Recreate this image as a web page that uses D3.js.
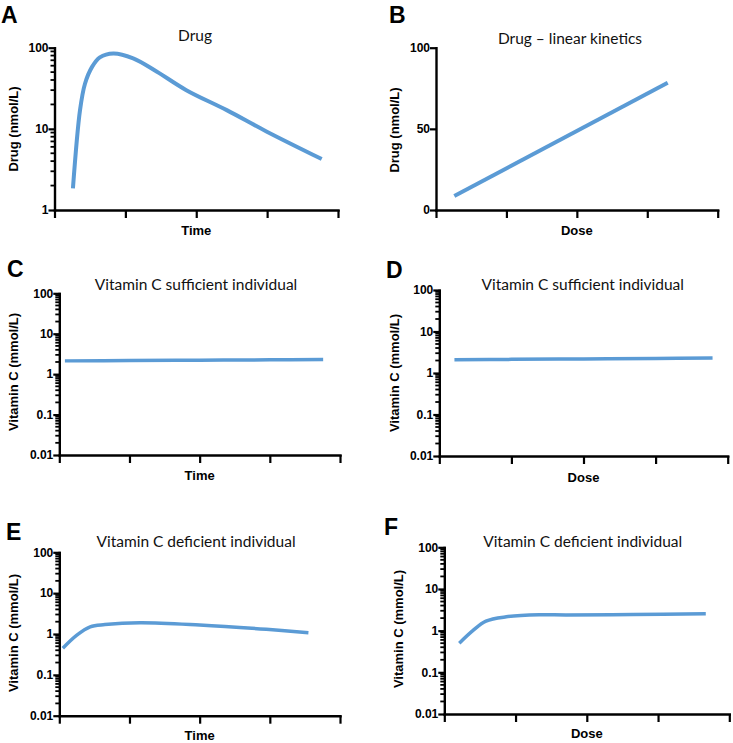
<!DOCTYPE html>
<html>
<head>
<meta charset="utf-8">
<script src="https://cdn.jsdelivr.net/npm/d3@7"></script>
<style>
  html, body { margin: 0; padding: 0; background: #fff; }
  svg { display: block; }
</style>
</head>
<body>
<svg id="chart" width="733" height="743"></svg>
<script>
// ---------- data ----------
const xTickValues = [0, 1, 2, 3, 4];

const drugLogTicks = [1, 10, 100];
const drugLogTickLabels = ["1", "10", "100"];
const drugLinTicks = [0, 50, 100];
const drugLinTickLabels = ["0", "50", "100"];
const vitCLogTicks = [0.01, 0.1, 1, 10, 100];
const vitCLogTickLabels = ["0.01", "0.1", "1", "10", "100"];

const timeA = [0.26, 0.36, 0.43, 0.53, 0.64, 0.83, 1.11, 1.44, 1.86, 2.43, 2.99, 3.77];
const drugA = [1.85, 17, 36, 58, 76, 85, 74, 51, 30, 17, 9.3, 4.25];

const doseB = [0.26, 3.29];
const drugB = [8.6, 78.4];

const timeC = [0.08, 1.0, 2.0, 3.0, 3.76];
const vitC_C = [2.13, 2.17, 2.21, 2.26, 2.31];

const doseD = [0.21, 1.0, 2.0, 3.0, 3.79];
const vitC_D = [2.09, 2.13, 2.18, 2.24, 2.30];

const timeE = [0.05, 0.25, 0.44, 0.65, 1.15, 2.0, 2.95, 3.55];
const vitC_E = [0.45, 0.94, 1.5, 1.7, 1.89, 1.66, 1.3, 1.07];

const doseF = [0.21, 0.40, 0.585, 0.87, 1.33, 1.71, 2.65, 3.67];
const vitC_F = [0.5, 1.0, 1.7, 2.15, 2.4, 2.38, 2.45, 2.55];

// ---------- layout / panels ----------
const panels = [
  { letter: "A", lx: 1, ly: 23, title: "Drug", tx: 195, ty: 41,
    xLabel: "Time", xly: 235, yLabel: "Drug (nmol/L)", ylx: 18, yly: 129,
    left: 54.5, right: 338, top: 47.7, bottom: 210,
    yType: "log", yDomain: [1, 100], yTicks: drugLogTicks, yLabels: drugLogTickLabels,
    xs: timeA, ys: drugA, sw: 4 },
  { letter: "B", lx: 389, ly: 23, title: "Drug \u2013 linear kinetics", tx: 570, ty: 44,
    xLabel: "Dose", xly: 235, yLabel: "Drug (nmol/L)", ylx: 399, yly: 130,
    left: 436, right: 717.7, top: 47.7, bottom: 210,
    yType: "linear", yDomain: [0, 100], yTicks: drugLinTicks, yLabels: drugLinTickLabels,
    xs: doseB, ys: drugB, sw: 4 },
  { letter: "C", lx: 7, ly: 277, title: "Vitamin C sufficient individual", tx: 196, ty: 290,
    xLabel: "Time", xly: 480, yLabel: "Vitamin C (mmol/L)", ylx: 18, yly: 372,
    left: 59.3, right: 340, top: 293.3, bottom: 455,
    yType: "log", yDomain: [0.01, 100], yTicks: vitCLogTicks, yLabels: vitCLogTickLabels,
    xs: timeC, ys: vitC_C, sw: 3.5 },
  { letter: "D", lx: 386, ly: 278, title: "Vitamin C sufficient individual", tx: 582.7, ty: 290,
    xLabel: "Dose", xly: 482, yLabel: "Vitamin C (mmol/L)", ylx: 399, yly: 373,
    left: 439.3, right: 727.7, top: 290, bottom: 456,
    yType: "log", yDomain: [0.01, 100], yTicks: vitCLogTicks, yLabels: vitCLogTickLabels,
    xs: doseD, ys: vitC_D, sw: 3.5 },
  { letter: "E", lx: 6, ly: 540, title: "Vitamin C deficient individual", tx: 196, ty: 546.5,
    xLabel: "Time", xly: 740, yLabel: "Vitamin C (mmol/L)", ylx: 18, yly: 633,
    left: 59.3, right: 340, top: 552.3, bottom: 715.7,
    yType: "log", yDomain: [0.01, 100], yTicks: vitCLogTicks, yLabels: vitCLogTickLabels,
    xs: timeE, ys: vitC_E, sw: 3.5 },
  { letter: "F", lx: 384, ly: 535, title: "Vitamin C deficient individual", tx: 582.7, ty: 546.5,
    xLabel: "Dose", xly: 738, yLabel: "Vitamin C (mmol/L)", ylx: 403, yly: 629,
    left: 444.3, right: 729.3, top: 547.3, bottom: 714,
    yType: "log", yDomain: [0.01, 100], yTicks: vitCLogTicks, yLabels: vitCLogTickLabels,
    xs: doseF, ys: vitC_F, sw: 3.5 }
];

const LINE_COLOR = "#5b9bd5";
const svg = d3.select("#chart");

function minorTicks(domain) {
  const out = [];
  const lo = Math.round(Math.log10(domain[0])), hi = Math.round(Math.log10(domain[1]));
  for (let e = lo; e < hi; e++) {
    for (let m = 2; m <= 9; m++) out.push(m * Math.pow(10, e));
  }
  return out;
}

panels.forEach(p => {
  const g = svg.append("g");
  const x = d3.scaleLinear().domain([0, 4]).range([p.left, p.right]);
  const y = (p.yType === "log" ? d3.scaleLog() : d3.scaleLinear())
    .domain(p.yDomain).range([p.bottom, p.top]);

  // panel letter
  g.append("text").attr("x", p.lx).attr("y", p.ly)
    .attr("font-family", "Liberation Sans, Arial, sans-serif")
    .attr("font-weight", "bold").attr("font-size", 23).attr("fill", "#000")
    .text(p.letter);

  // title
  g.append("text").attr("x", p.tx).attr("y", p.ty).attr("text-anchor", "middle")
    .attr("font-family", "Lato, 'Open Sans', sans-serif")
    .attr("font-size", 15.5).attr("fill", "#111")
    .text(p.title);

  // minor ticks (log axes)
  if (p.yType === "log") {
    g.append("g").selectAll("line").data(minorTicks(p.yDomain)).join("line")
      .attr("x1", p.left - 4).attr("x2", p.left)
      .attr("y1", d => y(d)).attr("y2", d => y(d))
      .attr("stroke", "#000").attr("stroke-width", 1.8);
  }

  // y axis
  const ya = g.append("g").attr("transform", `translate(${p.left},0)`)
    .call(d3.axisLeft(y).tickValues(p.yTicks).tickSize(6).tickSizeOuter(0).tickPadding(0)
      .tickFormat((d, i) => p.yLabels[i]));
  ya.select(".domain").attr("stroke", "#000").attr("stroke-width", 2.4).attr("stroke-linecap", "square");
  ya.selectAll(".tick line").attr("stroke", "#000").attr("stroke-width", 2.2);
  ya.selectAll(".tick text")
    .attr("font-family", "Liberation Sans, Arial, sans-serif")
    .attr("font-weight", "bold").attr("font-size", 12).attr("fill", "#000");

  // x axis
  const xa = g.append("g").attr("transform", `translate(0,${p.bottom})`)
    .call(d3.axisBottom(x).tickValues(xTickValues).tickSize(8).tickSizeOuter(0).tickFormat(""));
  xa.select(".domain").attr("stroke", "#000").attr("stroke-width", 2.4).attr("stroke-linecap", "square");
  xa.selectAll(".tick line").attr("stroke", "#000").attr("stroke-width", 2.2);

  // axis titles
  g.append("text").attr("x", (p.left + p.right) / 2).attr("y", p.xly).attr("text-anchor", "middle")
    .attr("font-family", "Liberation Sans, Arial, sans-serif")
    .attr("font-weight", "bold").attr("font-size", 13).attr("fill", "#000")
    .text(p.xLabel);
  g.append("text")
    .attr("transform", `translate(${p.ylx},${p.yly}) rotate(-90)`)
    .attr("text-anchor", "middle")
    .attr("font-family", "Liberation Sans, Arial, sans-serif")
    .attr("font-weight", "bold").attr("font-size", 13).attr("fill", "#000")
    .text(p.yLabel);

  // data line
  const pts = p.xs.map((v, i) => [v, p.ys[i]]);
  g.append("path").datum(pts)
    .attr("fill", "none").attr("stroke", LINE_COLOR).attr("stroke-width", p.sw)
    .attr("stroke-linejoin", "round")
    .attr("d", d3.line().x(d => x(d[0])).y(d => y(d[1])).curve(d3.curveCatmullRom.alpha(0.5)));
});
</script>
</body>
</html>
